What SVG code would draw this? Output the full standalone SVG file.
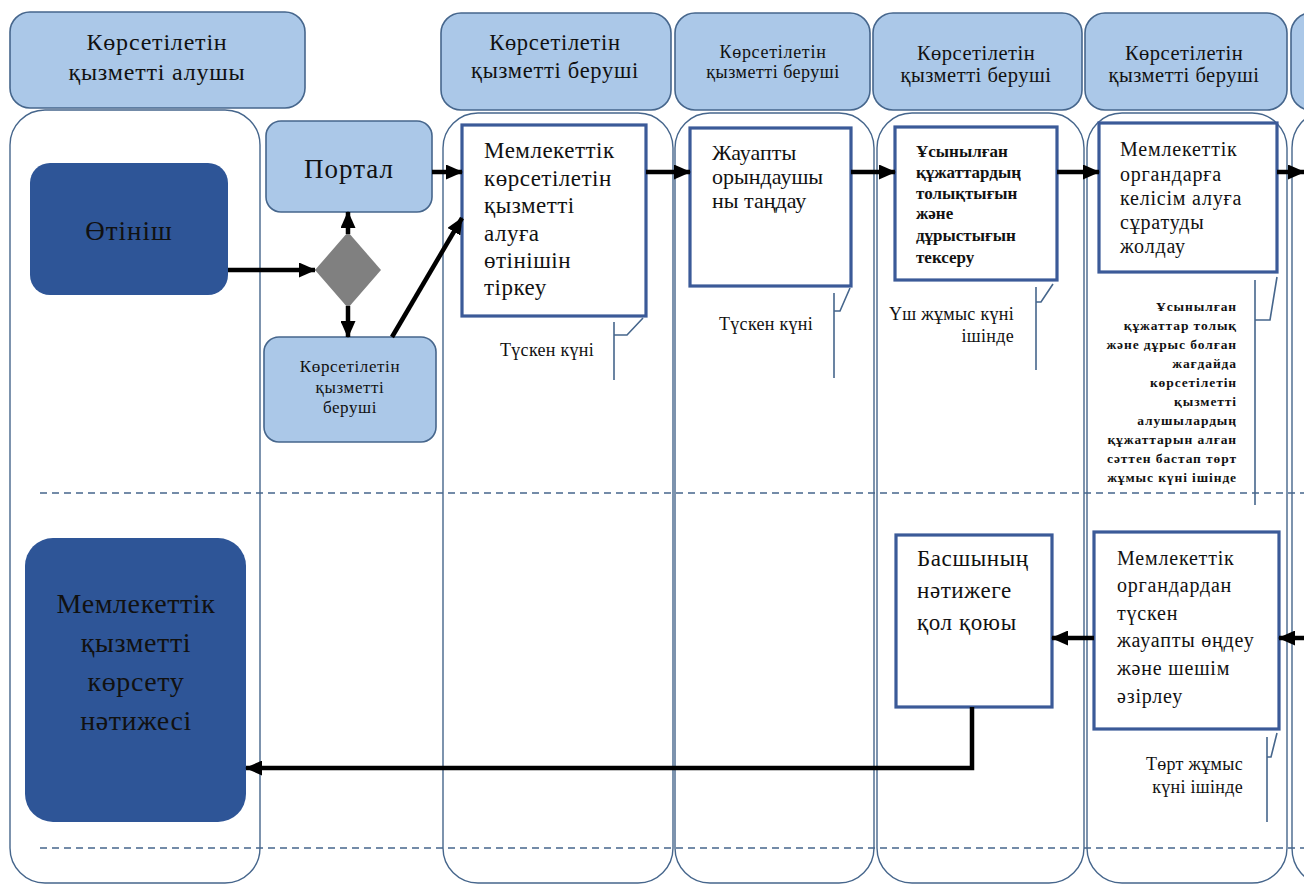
<svg xmlns="http://www.w3.org/2000/svg" width="1304" height="884" viewBox="0 0 1304 884">
<defs>
<style>
.hdr{fill:#abc8e8;stroke:#46668c;stroke-width:1.6}
.lane{fill:#ffffff;stroke:#46668c;stroke-width:1.4}
.dash{stroke:#46668c;stroke-width:1.5;stroke-dasharray:7 5;fill:none}
.navy{fill:#2e5597}
.lb{fill:#abc8e8;stroke:#46668c;stroke-width:1.6}
.box{fill:#ffffff;stroke:#3b5a98;stroke-width:3.2}
.conn{stroke:#000;stroke-width:4.5;fill:none;marker-end:url(#arr)}
.call{stroke:#46668c;stroke-width:1.6;fill:none}
.c{text-anchor:middle}
.r{text-anchor:end}
</style>
<marker id="arr" markerUnits="userSpaceOnUse" markerWidth="17" markerHeight="15" refX="16" refY="7.5" orient="auto">
<path d="M0,0 L17,7.5 L0,15 z" fill="#000"/>
</marker>
</defs>
<rect width="1304" height="884" fill="#ffffff"/>

<g id="lanes">
<rect class="lane" x="10" y="110" width="250" height="773" rx="35"/>
<rect class="lane" x="443" y="113" width="230" height="770" rx="35"/>
<rect class="lane" x="675" y="113" width="199" height="770" rx="35"/>
<rect class="lane" x="877" y="113" width="207" height="770" rx="35"/>
<rect class="lane" x="1087" y="113" width="200" height="770" rx="35"/>
<rect class="lane" x="1292" y="113" width="60" height="770" rx="35"/>
</g>

<g font-family="'Liberation Serif', 'DejaVu Serif', serif" fill="#111">
<g id="headers">
<g id="h1"><rect class="hdr" x="10" y="12" width="295" height="96" rx="20"/>
<text class="c" x="157" y="50" font-size="24" letter-spacing="0.8">Көрсетілетін</text>
<text class="c" x="157" y="80" font-size="24" letter-spacing="0.8">қызметті алушы</text></g>
<g id="h2"><rect class="hdr" x="441" y="13" width="230" height="97" rx="20"/>
<text class="c" x="555" y="50" font-size="22.5" letter-spacing="0.7">Көрсетілетін</text>
<text class="c" x="555" y="78" font-size="22.5" letter-spacing="0.7">қызметті беруші</text></g>
<g id="h3"><rect class="hdr" x="675" y="13" width="195" height="97" rx="20"/>
<text class="c" x="773" y="58" font-size="18" letter-spacing="0.7">Көрсетілетін</text>
<text class="c" x="773" y="78" font-size="18" letter-spacing="0.5">қызметті беруші</text></g>
<g id="h4"><rect class="hdr" x="873" y="13" width="209" height="97" rx="20"/>
<text class="c" x="976" y="60" font-size="20.5" letter-spacing="0.5">Көрсетілетін</text>
<text class="c" x="976" y="82" font-size="20.5" letter-spacing="0.5">қызметті беруші</text></g>
<g id="h5"><rect class="hdr" x="1085" y="13" width="202" height="97" rx="20"/>
<text class="c" x="1184" y="60" font-size="20.5" letter-spacing="0.5">Көрсетілетін</text>
<text class="c" x="1184" y="82" font-size="20.5" letter-spacing="0.5">қызметті беруші</text></g>
<g id="h6"><rect class="hdr" x="1291" y="13" width="80" height="97" rx="20"/></g>
</g>

<g id="separators">
<line class="dash" x1="40" y1="493" x2="1304" y2="493"/>
<line class="dash" x1="40" y1="848" x2="1304" y2="848"/>
</g>

<g id="n-otinish"><rect class="navy" x="30" y="163" width="198" height="132" rx="20"/>
<text class="c" x="129" y="240" font-size="27" letter-spacing="1">Өтініш</text></g>

<g id="n-result"><rect class="navy" x="25" y="538" width="221" height="284" rx="28"/>
<text class="c" x="136" y="613" font-size="28" letter-spacing="0.6">Мемлекеттік</text>
<text class="c" x="136" y="652" font-size="28" letter-spacing="0.6">қызметті</text>
<text class="c" x="136" y="691" font-size="28" letter-spacing="0.6">көрсету</text>
<text class="c" x="136" y="730" font-size="28" letter-spacing="0.6">нәтижесі</text></g>

<g id="n-portal"><rect class="lb" x="266" y="121" width="166" height="91" rx="15"/>
<text class="c" x="349" y="178" font-size="27" letter-spacing="1">Портал</text></g>

<g id="n-gateway"><polygon points="348,232 381,270 348,308 315,270" fill="#808080"/></g>

<g id="n-provider"><rect class="lb" x="264" y="337" width="172" height="105" rx="15"/>
<text class="c" x="350" y="372" font-size="17" letter-spacing="0.6">Көрсетілетін</text>
<text class="c" x="350" y="393" font-size="17" letter-spacing="0.6">қызметті</text>
<text class="c" x="350" y="413" font-size="17" letter-spacing="0.6">беруші</text></g>

<g id="n-register"><rect class="box" x="462" y="125" width="184" height="191"/>
<text x="484" y="158" font-size="23" letter-spacing="0.5">Мемлекеттік</text>
<text x="484" y="186" font-size="23" letter-spacing="0.5">көрсетілетін</text>
<text x="484" y="213" font-size="23" letter-spacing="0.5">қызметті</text>
<text x="484" y="241" font-size="23" letter-spacing="0.5">алуға</text>
<text x="484" y="268" font-size="23" letter-spacing="0.5">өтінішін</text>
<text x="484" y="295" font-size="23" letter-spacing="0.5">тіркеу</text></g>

<g id="n-select"><rect class="box" x="690" y="128" width="161" height="158"/>
<text x="712" y="160" font-size="22">Жауапты</text>
<text x="712" y="184" font-size="22">орындаушы</text>
<text x="712" y="208" font-size="22">ны таңдау</text></g>

<g id="n-check"><rect class="box" x="895" y="127" width="162" height="153"/>
<text x="916" y="157" font-size="17" font-weight="bold">Ұсынылған</text>
<text x="916" y="178" font-size="17" font-weight="bold">құжаттардың</text>
<text x="916" y="199" font-size="17" font-weight="bold">толықтығын</text>
<text x="916" y="219" font-size="17" font-weight="bold">және</text>
<text x="916" y="241" font-size="17" font-weight="bold">дұрыстығын</text>
<text x="916" y="263" font-size="17" font-weight="bold">тексеру</text></g>

<g id="n-request"><rect class="box" x="1099" y="123" width="178" height="149"/>
<text x="1120" y="156" font-size="20" letter-spacing="0.8">Мемлекеттік</text>
<text x="1120" y="181" font-size="20" letter-spacing="0.8">органдарға</text>
<text x="1120" y="205" font-size="20" letter-spacing="0.8">келісім алуға</text>
<text x="1120" y="229" font-size="20" letter-spacing="0.8">сұратуды</text>
<text x="1120" y="253" font-size="20" letter-spacing="0.8">жолдау</text></g>

<g id="n-sign"><rect class="box" x="896" y="535" width="156" height="172"/>
<text x="917" y="566" font-size="23" letter-spacing="0.6">Басшының</text>
<text x="917" y="598" font-size="23" letter-spacing="0.6">нәтижеге</text>
<text x="917" y="630" font-size="23" letter-spacing="0.6">қол қоюы</text></g>

<g id="n-process"><rect class="box" x="1094" y="532" width="185" height="197"/>
<text x="1117" y="565" font-size="20" letter-spacing="0.8">Мемлекеттік</text>
<text x="1117" y="592" font-size="20" letter-spacing="0.8">органдардан</text>
<text x="1117" y="620" font-size="20" letter-spacing="0.8">түскен</text>
<text x="1117" y="647" font-size="20" letter-spacing="0.8">жауапты өңдеу</text>
<text x="1117" y="675" font-size="20" letter-spacing="0.8">және шешім</text>
<text x="1117" y="703" font-size="20" letter-spacing="0.8">әзірлеу</text></g>

<g id="callouts">
<path class="call" d="M614,322 V380 M614,335 H627 L643,318"/>
<text x="500" y="356" font-size="18" letter-spacing="0.3">Түскен күні</text>
<path class="call" d="M834,293 V378 M834,311 H840 L850,288"/>
<text x="719" y="330" font-size="18" letter-spacing="0.3">Түскен күні</text>
<path class="call" d="M1036,287 V370 M1036,302 H1041 L1053,284"/>
<text class="r" x="1014" y="320" font-size="18" letter-spacing="0.3">Үш жұмыс күні</text>
<text class="r" x="1014" y="342" font-size="18" letter-spacing="0.3">ішінде</text>
<path class="call" d="M1255,280 V505 M1255,320 H1270 L1277,277"/>
<g font-size="13.5" font-weight="bold" letter-spacing="0.9">
<text class="r" x="1237" y="311">Ұсынылған</text>
<text class="r" x="1237" y="330">құжаттар толық</text>
<text class="r" x="1237" y="349">және дұрыс болған</text>
<text class="r" x="1237" y="368">жағдайда</text>
<text class="r" x="1237" y="387">көрсетілетін</text>
<text class="r" x="1237" y="406">қызметті</text>
<text class="r" x="1237" y="425">алушылардың</text>
<text class="r" x="1237" y="444">құжаттарын алған</text>
<text class="r" x="1237" y="463">сәттен бастап төрт</text>
<text class="r" x="1237" y="482">жұмыс күні ішінде</text>
</g>
<path class="call" d="M1267,737 V822 M1267,757 H1271 L1277,733"/>
<text class="r" x="1243" y="770" font-size="18" letter-spacing="0.3">Төрт жұмыс</text>
<text class="r" x="1243" y="793" font-size="18" letter-spacing="0.3">күні ішінде</text>
</g>
</g>

<g id="connectors">
<path class="conn" d="M228,270 H315"/>
<path class="conn" d="M348,234 V212"/>
<path class="conn" d="M348,306 V337"/>
<path class="conn" d="M432,172 H462"/>
<path class="conn" d="M392,337 L462,218"/>
<path class="conn" d="M646,172 H690"/>
<path class="conn" d="M851,172 H895"/>
<path class="conn" d="M1057,172 H1099"/>
<path class="conn" d="M1277,172 H1304"/>
<path class="conn" d="M1304,638 H1279"/>
<path class="conn" d="M1094,638 H1052"/>
<path class="conn" d="M972,707 V768 H246"/>
</g>
</svg>
